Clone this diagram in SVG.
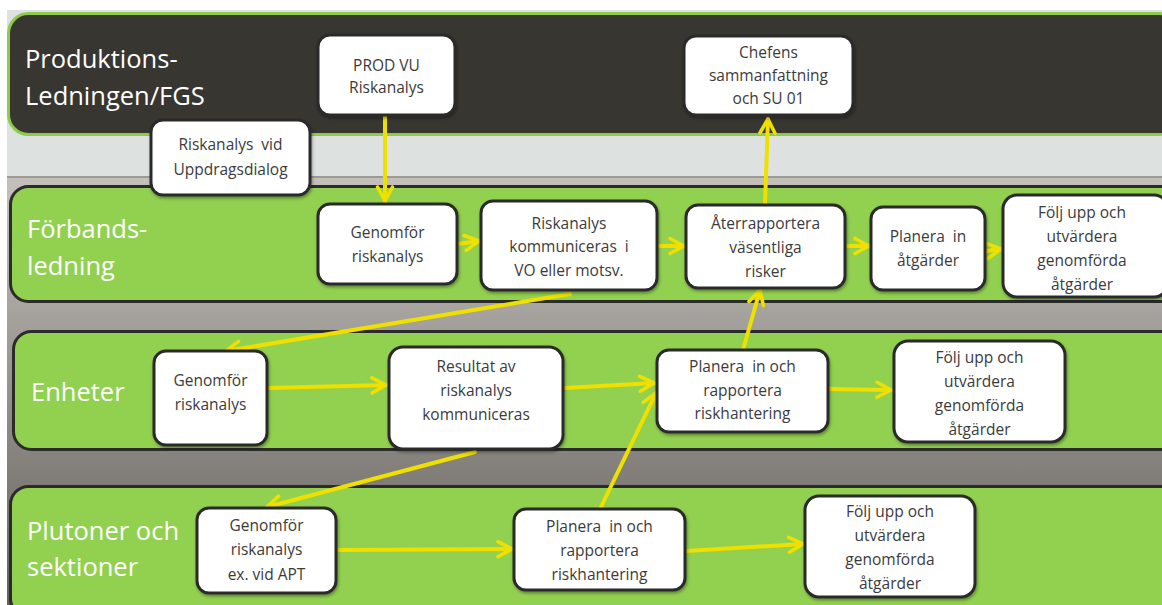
<svg xmlns="http://www.w3.org/2000/svg" width="1162" height="605" viewBox="0 0 1162 605">
<defs>
<linearGradient id="bgGrad" x1="0" y1="0" x2="0" y2="1">
<stop offset="0" stop-color="#c4c1bd"/>
<stop offset="1" stop-color="#65625e"/>
</linearGradient>
<filter id="sh" x="-10%" y="-10%" width="125%" height="130%">
<feDropShadow dx="1" dy="2" stdDeviation="1.5" flood-color="#000" flood-opacity="0.35"/>
</filter>
<marker id="arr" viewBox="0 0 20 20" refX="17" refY="10" markerWidth="20" markerHeight="20" markerUnits="userSpaceOnUse" orient="auto">
<path d="M3,2.5 L17,10 L3,17.5" fill="none" stroke="#efe000" stroke-width="3.6" stroke-linecap="round" stroke-linejoin="round"/>
</marker>
</defs>
<style>
.lane{fill:#92d050;stroke:#2b2b2b;stroke-width:3}
.top{fill:#383631;stroke:#8ccc4a;stroke-width:3}
.node rect{fill:#ffffff;stroke:#2a2a2a;stroke-width:3;filter:url(#sh)}
.node text{font-family:"Open Sans","Noto Sans",sans-serif;font-size:15.5px;fill:#3b3b3b;text-anchor:middle;white-space:pre}
.lbl{font-family:"Open Sans","Noto Sans",sans-serif;font-size:25.5px;fill:#ffffff}
#connectors line{stroke:#efe000;stroke-width:4;stroke-linecap:round;marker-end:url(#arr)}
</style>
<rect x="0" y="0" width="1162" height="605" fill="#ffffff"/>
<rect x="7" y="10" width="1155" height="168" fill="#dde2e0"/>
<rect x="7" y="176" width="1155" height="429" fill="url(#bgGrad)"/>
<line x1="7" y1="177" x2="1162" y2="177" stroke="#8f8c88" stroke-width="1.5"/>

<g id="lane-prod">
<rect class="top" x="8.5" y="13.5" width="1170" height="121" rx="20"/>
<text class="lbl" x="25" y="68">Produktions-</text>
<text class="lbl" x="25" y="105">Ledningen/FGS</text>
</g>
<g id="lane-forband">
<rect class="lane" x="10.5" y="186.5" width="1170" height="115" rx="18"/>
<text class="lbl" x="27" y="238">Förbands-</text>
<text class="lbl" x="27" y="275">ledning</text>
</g>
<g id="lane-enheter">
<rect class="lane" x="13.5" y="331.5" width="1170" height="118" rx="18"/>
<text class="lbl" x="31" y="401">Enheter</text>
</g>
<g id="lane-pluton">
<rect class="lane" x="10.5" y="486.5" width="1170" height="130" rx="18"/>
<text class="lbl" x="27" y="540">Plutoner och</text>
<text class="lbl" x="27" y="576">sektioner</text>
</g>

<g id="connectors">
<line x1="385" y1="116" x2="385" y2="201"/>
<line x1="458" y1="244" x2="479" y2="241"/>
<line x1="658" y1="246" x2="684" y2="246"/>
<line x1="765" y1="204" x2="768" y2="119"/>
<line x1="846" y1="246" x2="869" y2="246"/>
<line x1="986" y1="251" x2="1001" y2="249"/>
<line x1="570" y1="294" x2="226" y2="351"/>
<line x1="268" y1="388" x2="386" y2="385"/>
<line x1="564" y1="388" x2="654" y2="383"/>
<line x1="829" y1="389" x2="891" y2="390"/>
<line x1="743" y1="350" x2="760" y2="290"/>
<line x1="475" y1="452" x2="267" y2="507"/>
<line x1="337" y1="550" x2="512" y2="549"/>
<line x1="600" y1="509" x2="656" y2="393"/>
<line x1="686" y1="551" x2="803" y2="544"/>
</g>

<g id="n-prodvu" class="node">
<rect x="318" y="35" width="137" height="80" rx="12"/>
<text x="386.5" y="71">PROD VU</text>
<text x="386.5" y="93">Riskanalys</text>
</g>
<g id="n-uppdrag" class="node">
<rect x="151" y="120" width="159" height="75" rx="12"/>
<text x="230.5" y="150">Riskanalys  vid</text>
<text x="230.5" y="175">Uppdragsdialog</text>
</g>
<g id="n-chefens" class="node">
<rect x="684" y="36" width="169" height="79" rx="12"/>
<text x="768.5" y="58">Chefens</text>
<text x="768.5" y="81">sammanfattning</text>
<text x="768.5" y="104">och SU 01</text>
</g>
<g id="n-f-genomfor" class="node">
<rect x="318" y="204" width="139" height="80" rx="12"/>
<text x="387.5" y="238">Genomför</text>
<text x="387.5" y="262">riskanalys</text>
</g>
<g id="n-f-komm" class="node">
<rect x="481" y="201" width="176" height="89" rx="12"/>
<text x="569" y="229">Riskanalys</text>
<text x="569" y="252">kommuniceras  i</text>
<text x="569" y="276">VO eller motsv.</text>
</g>
<g id="n-f-ater" class="node">
<rect x="686" y="205" width="159" height="83" rx="12"/>
<text x="765.5" y="229">Återrapportera</text>
<text x="765.5" y="253">väsentliga</text>
<text x="765.5" y="277">risker</text>
</g>
<g id="n-f-planera" class="node">
<rect x="871" y="207" width="114" height="83" rx="12"/>
<text x="928" y="242">Planera  in</text>
<text x="928" y="266">åtgärder</text>
</g>
<g id="n-f-folj" class="node">
<rect x="1003" y="195" width="165" height="102" rx="14"/>
<text x="1082" y="218">Följ upp och</text>
<text x="1082" y="242">utvärdera</text>
<text x="1082" y="266">genomförda</text>
<text x="1082" y="290">åtgärder</text>
</g>
<g id="n-e-genomfor" class="node">
<rect x="154" y="351" width="113" height="94" rx="12"/>
<text x="210.5" y="386">Genomför</text>
<text x="210.5" y="410">riskanalys</text>
</g>
<g id="n-e-resultat" class="node">
<rect x="389" y="347" width="174" height="102" rx="14"/>
<text x="476" y="372">Resultat av</text>
<text x="476" y="396">riskanalys</text>
<text x="476" y="420">kommuniceras</text>
</g>
<g id="n-e-planera" class="node">
<rect x="657" y="350" width="171" height="82" rx="12"/>
<text x="742.5" y="372">Planera  in och</text>
<text x="742.5" y="396">rapportera</text>
<text x="742.5" y="419">riskhantering</text>
</g>
<g id="n-e-folj" class="node">
<rect x="894" y="341" width="171" height="101" rx="14"/>
<text x="979.5" y="363">Följ upp och</text>
<text x="979.5" y="387">utvärdera</text>
<text x="979.5" y="411">genomförda</text>
<text x="979.5" y="435">åtgärder</text>
</g>
<g id="n-p-genomfor" class="node">
<rect x="197" y="508" width="139" height="85" rx="12"/>
<text x="266.5" y="531">Genomför</text>
<text x="266.5" y="555">riskanalys</text>
<text x="266.5" y="580">ex. vid APT</text>
</g>
<g id="n-p-planera" class="node">
<rect x="514" y="509" width="171" height="81" rx="12"/>
<text x="599.5" y="532">Planera  in och</text>
<text x="599.5" y="556">rapportera</text>
<text x="599.5" y="580">riskhantering</text>
</g>
<g id="n-p-folj" class="node">
<rect x="805" y="496" width="170" height="101" rx="14"/>
<text x="890" y="517">Följ upp och</text>
<text x="890" y="541">utvärdera</text>
<text x="890" y="565">genomförda</text>
<text x="890" y="589">åtgärder</text>
</g>
</svg>
